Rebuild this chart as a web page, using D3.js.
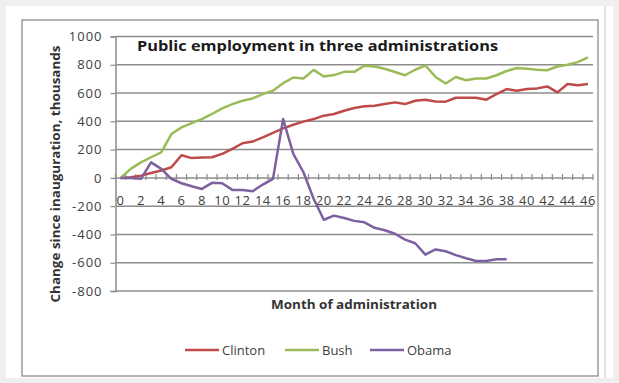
<!DOCTYPE html>
<html>
<head>
<meta charset="utf-8">
<script src="https://cdn.jsdelivr.net/npm/d3@7"></script>
<style>
  body { margin: 0; background: #efefef; }
  text { font-family: "Open Sans", Lato, sans-serif; }
</style>
</head>
<body>
<div id="chart"></div>
<script>
// data (thousands, change since inauguration)
var months = d3.range(0, 47);
var clinton = [0, 5, 16, 35, 52, 75, 160, 140, 145, 146, 170, 205, 245, 257, 287, 318, 350, 376, 398, 416,
  440, 452, 475, 494, 506, 510, 522, 534, 522, 546, 553, 541, 539, 567, 567, 567, 553, 593, 628, 616,
  628, 633, 647, 605, 664, 656, 664];
var bush = [0, 64, 110, 146, 181, 310, 357, 388, 416, 452, 492, 522, 546, 562, 593, 616, 670, 710, 703, 764,
  717, 727, 750, 750, 793, 788, 772, 749, 726, 765, 795, 714, 668, 714, 691, 703, 703, 726, 756, 777,
  772, 765, 761, 788, 800, 819, 853];
var obama = [0, 0, -7, 110, 64, -7, -38, -59, -78, -35, -38, -85, -85, -94, -47, -7, 416, 170, 40, -148,
  -296, -267, -284, -304, -314, -353, -370, -395, -437, -462, -543, -506, -519, -546, -568, -588, -588, -575, -575];
var seriesNames = ["Clinton", "Bush", "Obama"];
var seriesColors = ["#be4b48", "#9bbb59", "#7d60a0"];
var yTicks = [-800, -600, -400, -200, 0, 200, 400, 600, 800, 1000];

var W = 619, H = 383;

var svg = d3.select("#chart").append("svg")
  .attr("width", W)
  .attr("height", H);

// sheet background and chart frame
svg.append("rect").attr("x", 6).attr("y", 6).attr("width", 607).attr("height", 372).attr("fill", "#fff");
svg.append("line").attr("x1", 605).attr("x2", 605).attr("y1", 6).attr("y2", 378)
  .attr("stroke", "#d8d8d8").attr("stroke-width", 1.5);
svg.append("rect").attr("x", 22).attr("y", 20).attr("width", 576).attr("height", 356)
  .attr("fill", "#fff").attr("stroke", "#9a9a9a").attr("stroke-width", 1.5);

// scales
var x = d3.scaleLinear().domain([-0.5, 46.5]).range([115.5, 593]);
var y = d3.scaleLinear().domain([-800, 1000]).range([291, 36.5]);

// gridlines + y axis
var yAxis = svg.append("g")
  .attr("transform", "translate(115.5,0)")
  .call(d3.axisLeft(y).tickValues(yTicks).tickSize(5).tickPadding(8)
    .tickFormat(function (d) { return String(d); }));
yAxis.select(".domain").attr("stroke", "#8c8c8c").attr("stroke-width", 1.5);
yAxis.selectAll(".tick line").attr("stroke", "#8c8c8c").attr("stroke-width", 1.2);
yAxis.selectAll(".tick text").attr("font-size", 13).attr("letter-spacing", 1).attr("fill", "#404040");

svg.append("g").selectAll("line")
  .data(yTicks)
  .enter().append("line")
  .attr("x1", 115.5).attr("x2", 593)
  .attr("y1", function (d) { return y(d); })
  .attr("y2", function (d) { return y(d); })
  .attr("stroke", "#8c8c8c")
  .attr("stroke-width", 1.5);

// x axis at zero, ticks between categories
var xg = svg.append("g");
xg.selectAll("line")
  .data(d3.range(0, 48))
  .enter().append("line")
  .attr("x1", function (d) { return x(d - 0.5); })
  .attr("x2", function (d) { return x(d - 0.5); })
  .attr("y1", y(0) - 4).attr("y2", y(0) + 2)
  .attr("stroke", "#8c8c8c").attr("stroke-width", 1.2);
xg.selectAll("text")
  .data(months.filter(function (d) { return d % 2 === 0; }))
  .enter().append("text")
  .attr("x", function (d) { return x(d); })
  .attr("y", y(0) + 27)
  .attr("text-anchor", "middle")
  .attr("font-size", 13)
  .attr("letter-spacing", 0.5)
  .attr("fill", "#404040")
  .text(function (d) { return d; });

// lines
var line = d3.line()
  .x(function (d, i) { return x(i); })
  .y(function (d) { return y(d); });

[clinton, bush, obama].forEach(function (s, k) {
  svg.append("path")
    .datum(s)
    .attr("fill", "none")
    .attr("stroke", seriesColors[k])
    .attr("stroke-width", 2.5)
    .attr("stroke-linejoin", "round")
    .attr("d", line);
});

// titles
svg.append("text")
  .attr("x", 137).attr("y", 51)
  .attr("font-size", 15).attr("font-weight", "bold").attr("fill", "#1a1a1a")
  .attr("textLength", 361).attr("lengthAdjust", "spacingAndGlyphs")
  .text("Public employment in three administrations");

svg.append("text")
  .attr("transform", "translate(60,174) rotate(-90)")
  .attr("text-anchor", "middle")
  .attr("font-size", 13).attr("font-weight", "bold").attr("fill", "#333")
  .attr("textLength", 257).attr("lengthAdjust", "spacingAndGlyphs")
  .text("Change since inauguration, thousands");

svg.append("text")
  .attr("x", 354).attr("y", 309)
  .attr("text-anchor", "middle")
  .attr("font-size", 13).attr("font-weight", "bold").attr("fill", "#333")
  .attr("textLength", 166).attr("lengthAdjust", "spacingAndGlyphs")
  .text("Month of administration");

// legend
var legX = [185, 285, 370];
var legend = svg.append("g");
seriesNames.forEach(function (n, k) {
  legend.append("line")
    .attr("x1", legX[k]).attr("x2", legX[k] + 34)
    .attr("y1", 350).attr("y2", 350)
    .attr("stroke", seriesColors[k]).attr("stroke-width", 2.5);
  legend.append("text")
    .attr("x", legX[k] + 37).attr("y", 355)
    .attr("font-size", 13).attr("fill", "#404040")
    .text(n);
});
</script>
</body>
</html>
